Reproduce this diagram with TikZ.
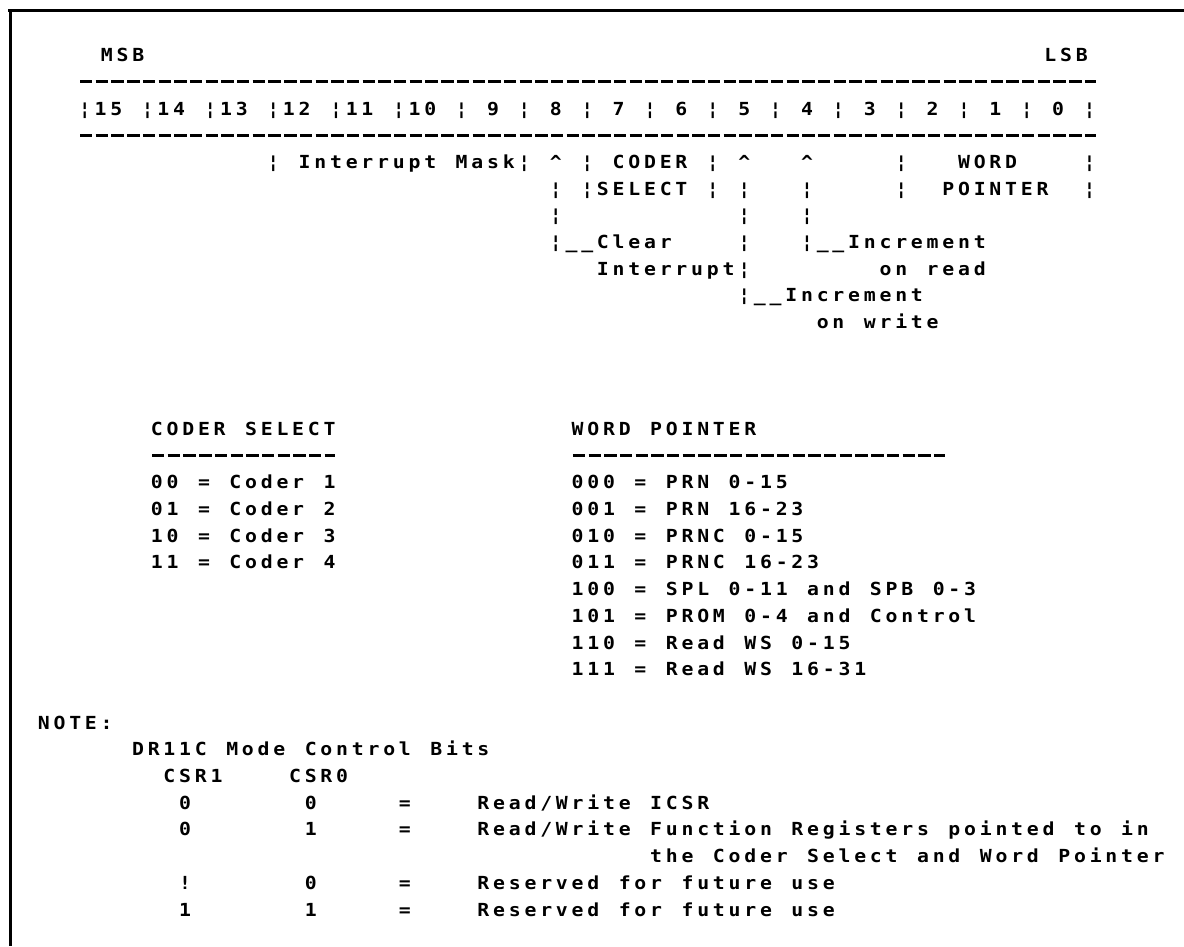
\documentclass[tikz,border=0pt]{standalone}
\usepackage{fontspec}
\newfontfamily\dm{DejaVu Sans Mono}[FakeStretch=1.1]
\newlength\pitch \setlength\pitch{15.7pt}
\ExplSyntaxOn
\NewDocumentCommand \pr { m } { \str_map_inline:nn {#1} { \makebox[\pitch][c]{##1} } }
\ExplSyntaxOff
% grid helpers: column of the bit grid, column of the lower grid, baseline of row
\newcommand\cx[1]{77+15.7*#1}
\newcommand\nx[1]{36+15.7*#1}
\newcommand\ry[1]{61.6+26.7*#1}
\tikzset{
  txt/.style={anchor=base west, inner sep=0pt, outer sep=0pt, font=\dm\bfseries\fontsize{18}{21}\selectfont},
  rulerow/.style={line width=2.8pt, dash pattern=on 12.4pt off 3.3pt},
  frame/.style={line width=3pt}
}
\begin{document}
\begin{tikzpicture}[x=1pt,y=-1pt]
\useasboundingbox (0,0) rectangle (1184,946);
% frame
\coordinate (tl) at (8,10);
\coordinate (tr) at (1184,10);
\coordinate (fl) at (10,10);
\coordinate (bl) at (10,946);
\draw[frame] (tl) -- (tr);
\draw[frame] (fl) -- (bl);
% header
\node[txt] (msb) at (99,{\ry{0}}) {\pr{MSB}};
\node[txt] (lsb) at ({\cx{61.5}},{\ry{0}}) {\pr{LSB}};
\coordinate (r1a) at ({\cx{0}+3},{\ry{1}-6.5});
\coordinate (r1b) at ({\cx{65}-2},{\ry{1}-6.5});
\draw[rulerow] (r1a) -- (r1b);
\node[txt] (bits) at ({\cx{0}},{\ry{2}}) {\pr{¦15 ¦14 ¦13 ¦12 ¦11 ¦10 ¦ 9 ¦ 8 ¦ 7 ¦ 6 ¦ 5 ¦ 4 ¦ 3 ¦ 2 ¦ 1 ¦ 0 ¦}};
\coordinate (r2a) at ({\cx{0}+3},{\ry{3}-6.5});
\coordinate (r2b) at ({\cx{65}-2},{\ry{3}-6.5});
\draw[rulerow] (r2a) -- (r2b);
% row 4
\node[txt] (im) at ({\cx{12}},{\ry{4}}) {\pr{¦ Interrupt Mask¦ ^ ¦ CODER ¦ ^}};
\node[txt] (c4) at ({\cx{46}},{\ry{4}}) {\pr{^}};
\node[txt] (w1) at ({\cx{52}},{\ry{4}}) {\pr{¦}};
\node[txt] (word) at ({\cx{56}},{\ry{4}}) {\pr{WORD}};
\node[txt] (w2) at ({\cx{64}},{\ry{4}}) {\pr{¦}};
% row 5
\node[txt] (sel) at ({\cx{30}},{\ry{5}}) {\pr{¦ ¦SELECT ¦ ¦}};
\node[txt] (c5) at ({\cx{46}},{\ry{5}}) {\pr{¦}};
\node[txt] (w3) at ({\cx{52}},{\ry{5}}) {\pr{¦}};
\node[txt] (ptr) at ({\cx{55}},{\ry{5}}) {\pr{POINTER}};
\node[txt] (w4) at ({\cx{64}},{\ry{5}}) {\pr{¦}};
% row 6
\node[txt] (a6) at ({\cx{30}},{\ry{6}}) {\pr{¦}};
\node[txt] (b6) at ({\cx{42}},{\ry{6}}) {\pr{¦}};
\node[txt] (c6) at ({\cx{46}},{\ry{6}}) {\pr{¦}};
% row 7
\node[txt] (clr) at ({\cx{30}},{\ry{7}}) {\pr{¦__Clear}};
\node[txt] (b7) at ({\cx{42}},{\ry{7}}) {\pr{¦}};
\node[txt] (incr) at ({\cx{46}},{\ry{7}}) {\pr{¦__Increment}};
% row 8
\node[txt] (intr) at ({\cx{33}},{\ry{8}}) {\pr{Interrupt¦}};
\node[txt] (onr) at ({\cx{51}},{\ry{8}}) {\pr{on read}};
% row 9
\node[txt] (incw) at ({\cx{42}},{\ry{9}}) {\pr{¦__Increment}};
% row 10
\node[txt] (onw) at ({\cx{47}},{\ry{10}}) {\pr{on write}};
% coder select block
\node[txt] (cs) at ({\nx{7.2}},{\ry{14}}) {\pr{CODER SELECT}};
\coordinate (csa) at ({\nx{7.2}+3},{\ry{15}-6.5});
\coordinate (csb) at ({\nx{19.2}-2},{\ry{15}-6.5});
\draw[rulerow] (csa) -- (csb);
\node[txt] (cs0) at ({\nx{7.2}},{\ry{16}}) {\pr{00 = Coder 1}};
\node[txt] (cs1) at ({\nx{7.2}},{\ry{17}}) {\pr{01 = Coder 2}};
\node[txt] (cs2) at ({\nx{7.2}},{\ry{18}}) {\pr{10 = Coder 3}};
\node[txt] (cs3) at ({\nx{7.2}},{\ry{19}}) {\pr{11 = Coder 4}};
% word pointer block
\node[txt] (wp) at ({\nx{34}},{\ry{14}}) {\pr{WORD POINTER}};
\coordinate (wpa) at ({\nx{34}+3},{\ry{15}-6.5});
\coordinate (wpb) at ({\nx{58}-2},{\ry{15}-6.5});
\draw[rulerow] (wpa) -- (wpb);
\node[txt] (wp0) at ({\nx{34}},{\ry{16}}) {\pr{000 = PRN 0-15}};
\node[txt] (wp1) at ({\nx{34}},{\ry{17}}) {\pr{001 = PRN 16-23}};
\node[txt] (wp2) at ({\nx{34}},{\ry{18}}) {\pr{010 = PRNC 0-15}};
\node[txt] (wp3) at ({\nx{34}},{\ry{19}}) {\pr{011 = PRNC 16-23}};
\node[txt] (wp4) at ({\nx{34}},{\ry{20}}) {\pr{100 = SPL 0-11 and SPB 0-3}};
\node[txt] (wp5) at ({\nx{34}},{\ry{21}}) {\pr{101 = PROM 0-4 and Control}};
\node[txt] (wp6) at ({\nx{34}},{\ry{22}}) {\pr{110 = Read WS 0-15}};
\node[txt] (wp7) at ({\nx{34}},{\ry{23}}) {\pr{111 = Read WS 16-31}};
% note block
\node[txt] (note) at ({\nx{0}},{\ry{25}}) {\pr{NOTE:}};
\node[txt] (dr) at ({\nx{6}},{\ry{26}}) {\pr{DR11C Mode Control Bits}};
\node[txt] (csr1) at ({\nx{8}},{\ry{27}}) {\pr{CSR1}};
\node[txt] (csr0) at ({\nx{16}},{\ry{27}}) {\pr{CSR0}};
\node[txt] (m1a) at ({\nx{9}},{\ry{28}}) {\pr{0}};
\node[txt] (m1b) at ({\nx{17}},{\ry{28}}) {\pr{0}};
\node[txt] (m1c) at ({\nx{23}},{\ry{28}}) {\pr{=}};
\node[txt] (m1d) at ({\nx{28}},{\ry{28}}) {\pr{Read/Write ICSR}};
\node[txt] (m2a) at ({\nx{9}},{\ry{29}}) {\pr{0}};
\node[txt] (m2b) at ({\nx{17}},{\ry{29}}) {\pr{1}};
\node[txt] (m2c) at ({\nx{23}},{\ry{29}}) {\pr{=}};
\node[txt] (m2d) at ({\nx{28}},{\ry{29}}) {\pr{Read/Write Function Registers pointed to in}};
\node[txt] (m2e) at ({\nx{39}},{\ry{30}}) {\pr{the Coder Select and Word Pointer}};
\node[txt] (m3a) at ({\nx{9}},{\ry{31}}) {\pr{!}};
\node[txt] (m3b) at ({\nx{17}},{\ry{31}}) {\pr{0}};
\node[txt] (m3c) at ({\nx{23}},{\ry{31}}) {\pr{=}};
\node[txt] (m3d) at ({\nx{28}},{\ry{31}}) {\pr{Reserved for future use}};
\node[txt] (m4a) at ({\nx{9}},{\ry{32}}) {\pr{1}};
\node[txt] (m4b) at ({\nx{17}},{\ry{32}}) {\pr{1}};
\node[txt] (m4c) at ({\nx{23}},{\ry{32}}) {\pr{=}};
\node[txt] (m4d) at ({\nx{28}},{\ry{32}}) {\pr{Reserved for future use}};
\end{tikzpicture}
\end{document}
